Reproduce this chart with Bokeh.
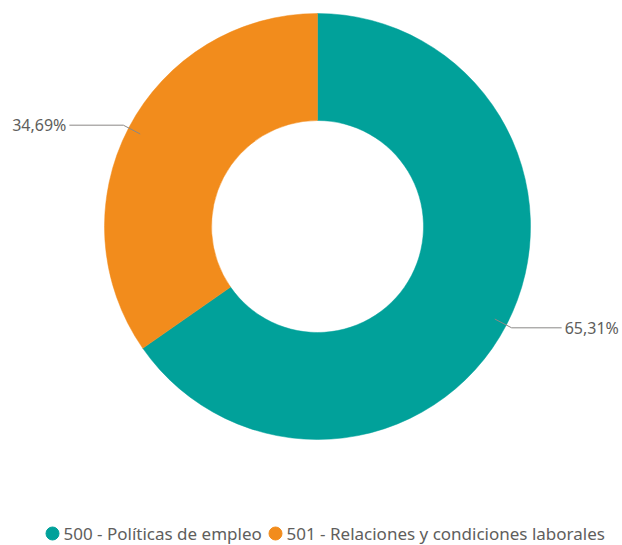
import math
from bokeh.plotting import figure
from bokeh.models import Range1d, ColumnDataSource
from bokeh.core.properties import value
from bokeh.embed import file_html
from bokeh.resources import INLINE

categories = ["500 - Políticas de empleo", "501 - Relaciones y condiciones laborales"]
shares = [65.31, 34.69]
colors = ["#01A19A", "#F28C1C"]

W, H = 622, 545
cx, cy = 317, 319
r_out, r_in = 213, 106

p = figure(width=W, height=H, output_backend="svg", toolbar_location=None,
           x_range=Range1d(0, W), y_range=Range1d(0, H), min_border=0)
p.axis.visible = False
p.grid.visible = False
p.outline_line_color = None
p.background_fill_color = "white"
p.border_fill_color = "white"

total = sum(shares)
start = math.pi / 2
starts, ends, mids = [], [], []
for s in shares:
    sweep = 2 * math.pi * s / total
    end = start - sweep
    starts.append(end)
    ends.append(start)
    mids.append(start - sweep / 2)
    start = end

src = ColumnDataSource(dict(x=[cx] * len(shares), y=[cy] * len(shares),
                            s=starts, e=ends, c=colors))
p.annular_wedge(x="x", y="y", inner_radius=r_in, outer_radius=r_out,
                start_angle="s", end_angle="e", fill_color="c",
                line_color="c", line_width=0.5, source=src)

# leader lines and labels
for share, m in zip(shares, mids):
    x0 = cx + 200 * math.cos(m)
    y0 = cy + 200 * math.sin(m)
    x1 = cx + 219 * math.cos(m)
    y1 = cy + 219 * math.sin(m)
    right = math.cos(m) > 0
    x2 = x1 + (50 if right else -54)
    p.line([x0, x1, x2], [y0, y1, y1], line_color="#8A8886", line_width=1)
    label = f"{share:.2f}%".replace(".", ",")
    p.text(x=[x2 + (3 if right else -3)], y=[y1], text=[label],
           text_font=value("Noto Sans"), text_font_size="16px",
           text_color="#605E5C", text_baseline="middle",
           text_align="left" if right else "right")

# legend
leg_y = 12
leg_cx = [52, 275]
for name, col, lx in zip(categories, colors, leg_cx):
    p.scatter(x=[lx], y=[leg_y], size=13, marker="circle",
              fill_color=col, line_color=col)
    p.text(x=[lx + 11], y=[leg_y], text=[name],
           text_font=value("Noto Sans"), text_font_size="17px",
           text_color="#605E5C", text_baseline="middle", text_align="left")

open("out.html", "w").write(file_html(p, INLINE))
